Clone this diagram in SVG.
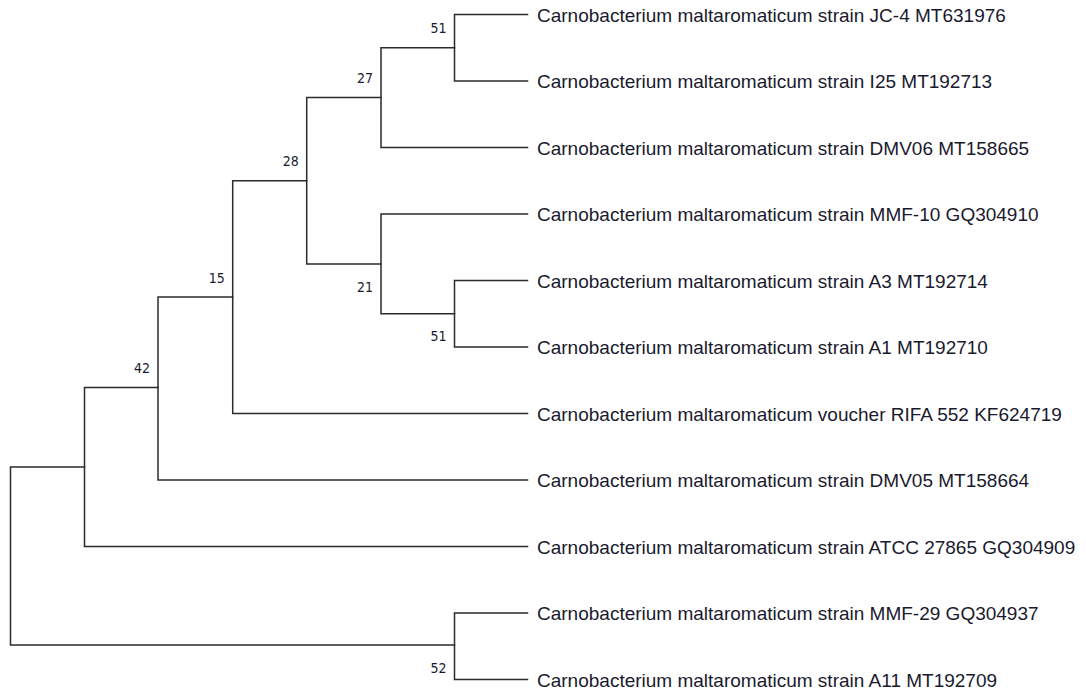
<svg xmlns="http://www.w3.org/2000/svg" width="1086" height="693" viewBox="0 0 1086 693">
<style>
.br{fill:none;stroke:#2b2b2b;stroke-width:1.5;stroke-linecap:square}
.lf{font-family:"Liberation Sans",Arial,sans-serif;font-size:19px;fill:#1a1a2e}
.bs{font-family:"DejaVu Sans Condensed","DejaVu Sans",sans-serif;font-stretch:condensed;font-size:14px;fill:#1a1a2e;text-anchor:end}
</style>
<rect width="1086" height="693" fill="#ffffff"/>
<g id="connectors">
<path class="br" d="M454.5,14.5H527.5M454.5,81H527.5M454.5,14.5V81"/>
<path class="br" d="M381,47.75H454.5M381,147.5H527.5M381,47.75V147.5"/>
<path class="br" d="M454.5,280.5H527.5M454.5,347H527.5M454.5,280.5V347"/>
<path class="br" d="M381,214H527.5M381,313.75H454.5M381,214V313.75"/>
<path class="br" d="M306.7,97.6H381M306.7,263.9H381M306.7,97.6V263.9"/>
<path class="br" d="M232.7,180.75H306.7M232.7,413.5H527.5M232.7,180.75V413.5"/>
<path class="br" d="M158,297.1H232.7M158,480H527.5M158,297.1V480"/>
<path class="br" d="M84.5,387.5H158M84.5,546.5H527.5M84.5,387.5V546.5"/>
<path class="br" d="M454.5,613H527.5M454.5,679.5H527.5M454.5,613V679.5"/>
<path class="br" d="M10.5,467H84.5M10.5,645H454.5M10.5,467V645"/>
</g>
<g id="bootstrap">
<text class="bs" x="446.5" y="33.3">51</text>
<text class="bs" x="373" y="83">27</text>
<text class="bs" x="298.7" y="166.3">28</text>
<text class="bs" x="224.7" y="282.6">15</text>
<text class="bs" x="150" y="372.7">42</text>
<text class="bs" x="373" y="292">21</text>
<text class="bs" x="446.5" y="341">51</text>
<text class="bs" x="446.5" y="673">52</text>
</g>
<g id="leaf1"><text class="lf" x="537" y="21.5">Carnobacterium maltaromaticum strain JC-4 MT631976</text></g>
<g id="leaf2"><text class="lf" x="537" y="88">Carnobacterium maltaromaticum strain I25 MT192713</text></g>
<g id="leaf3"><text class="lf" x="537" y="154.5">Carnobacterium maltaromaticum strain DMV06 MT158665</text></g>
<g id="leaf4"><text class="lf" x="537" y="221">Carnobacterium maltaromaticum strain MMF-10 GQ304910</text></g>
<g id="leaf5"><text class="lf" x="537" y="287.5">Carnobacterium maltaromaticum strain A3 MT192714</text></g>
<g id="leaf6"><text class="lf" x="537" y="354">Carnobacterium maltaromaticum strain A1 MT192710</text></g>
<g id="leaf7"><text class="lf" x="537" y="420.5">Carnobacterium maltaromaticum voucher RIFA 552 KF624719</text></g>
<g id="leaf8"><text class="lf" x="537" y="487">Carnobacterium maltaromaticum strain DMV05 MT158664</text></g>
<g id="leaf9"><text class="lf" x="537" y="553.5">Carnobacterium maltaromaticum strain ATCC 27865 GQ304909</text></g>
<g id="leaf10"><text class="lf" x="537" y="620">Carnobacterium maltaromaticum strain MMF-29 GQ304937</text></g>
<g id="leaf11"><text class="lf" x="537" y="686.5">Carnobacterium maltaromaticum strain A11 MT192709</text></g>
</svg>
